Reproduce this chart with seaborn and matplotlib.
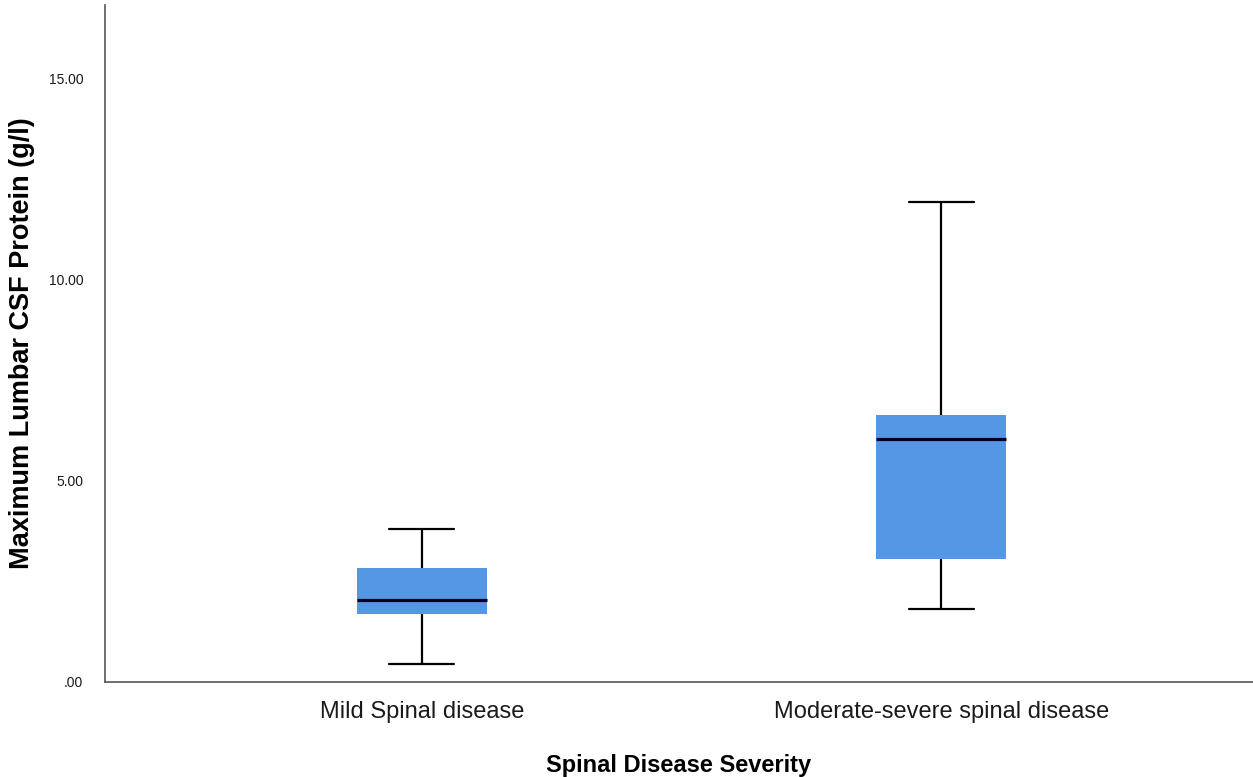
import pandas as pd
import matplotlib.pyplot as plt
import seaborn as sns

sns.set_theme(style="white")
plt.rcParams['font.family'] = ['Liberation Sans', 'DejaVu Sans']

# Five-number summaries (min, Q1, median, Q3, max)
categories = ['Mild Spinal disease', 'Moderate-severe spinal disease']
mild_values = [0.43, 1.68, 2.03, 2.83, 3.79]
severe_values = [1.80, 3.05, 6.03, 6.63, 11.94]
y_ticks = [0, 5, 10, 15]
y_tick_labels = ['.00', '5.00', '10.00', '15.00']

df = pd.DataFrame({
    'Spinal Disease Severity': [categories[0]] * len(mild_values) + [categories[1]] * len(severe_values),
    'Maximum Lumbar CSF Protein (g/l)': mild_values + severe_values,
})

fig = plt.figure(figsize=(12.53, 7.77), dpi=100)
ax = fig.add_axes([0.0838, 0.1229, 0.9162, 0.8707])

box_color = '#5596E5'
sns.boxplot(
    data=df, x='Spinal Disease Severity', y='Maximum Lumbar CSF Protein (g/l)',
    order=categories, width=0.25, whis=(0, 100), color=box_color, saturation=1,
    boxprops=dict(facecolor=box_color, edgecolor=box_color, linewidth=0),
    medianprops=dict(color='#000020', linewidth=2.3),
    whiskerprops=dict(color='black', linewidth=1.6),
    capprops=dict(color='black', linewidth=1.6),
    showfliers=False, ax=ax,
)

ax.set_xlim(-0.61, 1.60)
ax.set_ylim(0, 16.83)
ax.set_yticks(y_ticks)
ax.set_yticklabels(y_tick_labels)

ax.tick_params(axis='y', length=0, pad=15.5, labelsize=10, colors='#1a1a1a')
ax.tick_params(axis='x', length=0, pad=14, labelsize=17, colors='#1a1a1a')

ax.set_xlabel('Spinal Disease Severity', fontsize=17, fontweight='bold', labelpad=22, color='black')
ax.set_ylabel('Maximum Lumbar CSF Protein (g/l)', fontsize=19.5, fontweight='bold', color='black')
ax.yaxis.set_label_coords(-0.061, 0.5)

for side in ['top', 'right']:
    ax.spines[side].set_visible(False)
for side in ['left', 'bottom']:
    ax.spines[side].set_color('#555555')
    ax.spines[side].set_linewidth(1.2)

fig.savefig('out.png', dpi=100)
